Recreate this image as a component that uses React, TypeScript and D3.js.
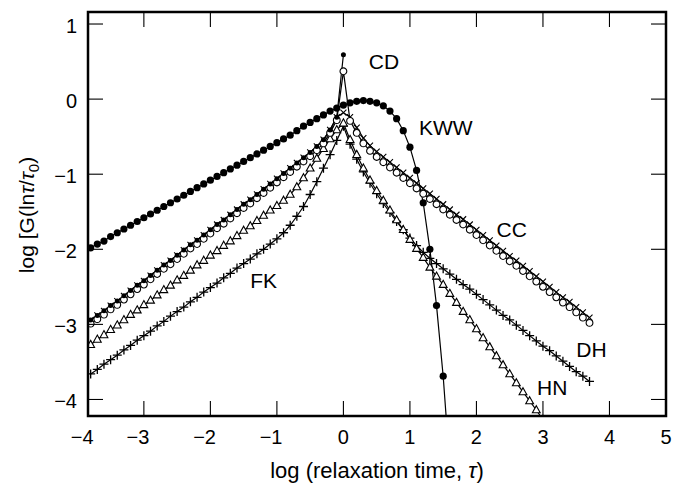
import React from 'react';
import * as d3 from 'd3';

// shared grid of log(tau) values the curves were sampled on
const logTau = [
  -3.8, -3.7, -3.6, -3.5, -3.4, -3.3, -3.2, -3.1, -3.0, -2.9,
  -2.8, -2.7, -2.6, -2.5, -2.4, -2.3, -2.2, -2.1, -2.0, -1.9,
  -1.8, -1.7, -1.6, -1.5, -1.4, -1.3, -1.2, -1.1, -1.0, -0.9,
  -0.8, -0.7, -0.6, -0.5, -0.4, -0.3, -0.2, -0.1, 0,
  0.1, 0.2, 0.3, 0.4, 0.5, 0.6, 0.7, 0.8, 0.9, 1.0,
  1.1, 1.2, 1.3, 1.4, 1.5, 1.6, 1.7, 1.8, 1.9, 2.0,
  2.1, 2.2, 2.3, 2.4, 2.5, 2.6, 2.7, 2.8, 2.9, 3.0,
  3.1, 3.2, 3.3, 3.4, 3.5, 3.6, 3.7,
];

// log G values, index-aligned with logTau
const kwwValues = [
  -1.98, -1.93, -1.89, -1.83, -1.78, -1.73, -1.68, -1.63, -1.58, -1.53,
  -1.48, -1.43, -1.38, -1.33, -1.28, -1.23, -1.18, -1.13, -1.08, -1.03,
  -0.98, -0.93, -0.88, -0.83, -0.78, -0.73, -0.68, -0.63, -0.58, -0.53,
  -0.48, -0.42, -0.36, -0.31, -0.26, -0.21, -0.16, -0.12, -0.08, -0.05,
  -0.03, -0.02, -0.03, -0.05, -0.09, -0.16, -0.26, -0.42, -0.64, -0.95,
  -1.38, -2.0, -2.75, -3.69, -4.9,
];

const cdValues = [
  -2.94, -2.88, -2.82, -2.75, -2.69, -2.62, -2.55, -2.48, -2.42, -2.35,
  -2.28, -2.21, -2.15, -2.08, -2.01, -1.94, -1.88, -1.81, -1.74, -1.67,
  -1.61, -1.54, -1.47, -1.40, -1.34, -1.27, -1.20, -1.13, -1.06, -0.99,
  -0.92, -0.85, -0.78, -0.71, -0.63, -0.54, -0.41, -0.24, 0.59,
];

const ccValues = [
  -2.99, -2.93, -2.87, -2.80, -2.74, -2.67, -2.60, -2.53, -2.47, -2.40,
  -2.33, -2.26, -2.20, -2.13, -2.06, -1.99, -1.93, -1.86, -1.79, -1.72,
  -1.66, -1.59, -1.52, -1.45, -1.39, -1.32, -1.25, -1.18, -1.11, -1.04,
  -0.97, -0.90, -0.83, -0.76, -0.68, -0.59, -0.45, -0.28, 0.37,
  -0.29, -0.45, -0.59, -0.69, -0.77, -0.84, -0.91, -0.98, -1.05, -1.12,
  -1.19, -1.26, -1.33, -1.40, -1.47, -1.54, -1.61, -1.67, -1.74, -1.81,
  -1.88, -1.95, -2.02, -2.09, -2.16, -2.22, -2.29, -2.36, -2.43, -2.50,
  -2.57, -2.64, -2.71, -2.77, -2.84, -2.91, -2.98,
];

const dhValues = [
  -2.94, -2.88, -2.82, -2.75, -2.69, -2.62, -2.55, -2.48, -2.42, -2.35,
  -2.28, -2.21, -2.15, -2.08, -2.01, -1.94, -1.88, -1.81, -1.74, -1.67,
  -1.61, -1.54, -1.47, -1.40, -1.34, -1.27, -1.20, -1.13, -1.06, -0.99,
  -0.92, -0.85, -0.78, -0.71, -0.63, -0.54, -0.41, -0.24, -0.18,
  -0.24, -0.38, -0.52, -0.62, -0.70, -0.77, -0.84, -0.91, -0.98, -1.05,
  -1.12, -1.19, -1.26, -1.33, -1.40, -1.47, -1.54, -1.60, -1.67, -1.74,
  -1.81, -1.88, -1.95, -2.02, -2.09, -2.15, -2.22, -2.29, -2.36, -2.43,
  -2.50, -2.57, -2.64, -2.70, -2.77, -2.84, -2.91,
];

const hnValues = [
  -3.27, -3.20, -3.14, -3.07, -3.01, -2.94, -2.87, -2.81, -2.74, -2.68,
  -2.61, -2.54, -2.48, -2.41, -2.35, -2.28, -2.21, -2.15, -2.08, -2.02,
  -1.95, -1.89, -1.82, -1.75, -1.69, -1.62, -1.55, -1.48, -1.42, -1.35,
  -1.27, -1.17, -1.05, -0.92, -0.79, -0.66, -0.53, -0.41, -0.32,
  -0.54, -0.74, -0.92, -1.08, -1.22, -1.35, -1.48, -1.61, -1.74, -1.87,
  -1.99, -2.11, -2.24, -2.36, -2.47, -2.59, -2.71, -2.83, -2.94, -3.06,
  -3.18, -3.30, -3.42, -3.54, -3.66, -3.78, -3.90, -4.02, -4.14, -4.27,
];

const fkValues = [
  -3.66, -3.60, -3.53, -3.47, -3.41, -3.34, -3.28, -3.21, -3.15, -3.09,
  -3.02, -2.96, -2.89, -2.83, -2.77, -2.70, -2.64, -2.57, -2.51, -2.45,
  -2.38, -2.32, -2.25, -2.19, -2.13, -2.06, -2.00, -1.93, -1.86, -1.78,
  -1.68, -1.56, -1.43, -1.27, -1.10, -0.92, -0.74, -0.55, -0.36,
  -0.60, -0.80, -0.97, -1.12, -1.26, -1.39, -1.51, -1.63, -1.74, -1.85,
  -1.95, -2.04, -2.12, -2.19, -2.26, -2.33, -2.40, -2.47, -2.53, -2.60,
  -2.67, -2.74, -2.81, -2.88, -2.94, -3.01, -3.08, -3.15, -3.22, -3.29,
  -3.35, -3.42, -3.49, -3.56, -3.63, -3.69, -3.76,
];

const xTickValues = [-4, -3, -2, -1, 0, 1, 2, 3, 4, 5];
const yTickValues = [1, 0, -1, -2, -3, -4];

// curve names and where they sit, in data units
const curveNames = ['CD', 'KWW', 'CC', 'FK', 'DH', 'HN'];
const curveNameX = [0.61, 1.54, 2.53, -1.2, 3.73, 3.14];
const curveNameY = [0.5, -0.38, -1.74, -2.41, -3.34, -3.84];

const frame = { left: 88, right: 666, top: 12, bottom: 416 };
const FONT = "'Liberation Sans', Arial, Helvetica, sans-serif";

const x = d3.scaleLinear().domain([-3.84, 4.85]).range([frame.left, frame.right]);
const y = d3.scaleLinear().domain([-4.22, 1.16]).range([frame.bottom, frame.top]);
const xc = (v: number) => x(Math.max(-3.84, Math.min(4.85, v)));
const yc = (v: number) => y(Math.max(-4.22, Math.min(1.16, v)));

const markers: Record<string, { d: string; fill: string; stroke: string; sw: number }> = {
  bigDot: { d: d3.symbol(d3.symbolCircle, Math.PI * 3.6 * 3.6)()!, fill: '#000', stroke: 'none', sw: 0 },
  smallDot: { d: d3.symbol(d3.symbolCircle, Math.PI * 2.5 * 2.5)()!, fill: '#000', stroke: 'none', sw: 0 },
  ring: { d: d3.symbol(d3.symbolCircle, Math.PI * 3.4 * 3.4)()!, fill: '#fff', stroke: '#000', sw: 1.1 },
  cross: { d: 'M-3,-3L3,3M-3,3L3,-3', fill: 'none', stroke: '#000', sw: 1.1 },
  plus: { d: 'M-4.5,0L4.5,0M0,-4.5L0,4.5', fill: 'none', stroke: '#000', sw: 1.3 },
  triangle: { d: 'M0,-4.3L3.9,2.8L-3.9,2.8Z', fill: '#fff', stroke: '#000', sw: 1.1 },
};

// draw order: bottom first
const series = [
  { name: 'FK', values: fkValues, marker: 'plus' },
  { name: 'HN', values: hnValues, marker: 'triangle' },
  { name: 'DH', values: dhValues, marker: 'cross' },
  { name: 'CC', values: ccValues, marker: 'ring' },
  { name: 'CD', values: cdValues, marker: 'smallDot' },
  { name: 'KWW', values: kwwValues, marker: 'bigDot' },
];

const line = d3.line<number>()
  .x((_, i) => x(logTau[i]))
  .y(d => y(d));

const minus = (v: number) => (v < 0 ? '\u2212' + Math.abs(v) : String(v));

export default function App() {
  const tickLen = 15;
  const tickFs = 20;
  const innerX = xTickValues.filter(v => v > -3.84 && v < 4.85);
  const innerY = yTickValues.filter(v => v > -4.22 && v < 1.16);

  return (
    <svg
      width={681}
      height={486}
      style={{ position: 'absolute', left: 0, top: 0, background: '#fff' }}
      fontFamily={FONT}
    >
      <defs>
        <clipPath id="plotArea">
          <rect x={frame.left} y={frame.top} width={frame.right - frame.left} height={frame.bottom - frame.top} />
        </clipPath>
      </defs>

      <g clipPath="url(#plotArea)">
        {series.map(s => (
          <path key={s.name + '-line'} d={line(s.values) || ''} fill="none" stroke="#000" strokeWidth={1.2} />
        ))}
        {series.map(s => {
          const m = markers[s.marker];
          return (
            <g key={s.name + '-pts'}>
              {s.values.map((v, i) => (
                <path
                  key={i}
                  transform={`translate(${x(logTau[i])},${y(v)})`}
                  d={m.d}
                  fill={m.fill}
                  stroke={m.stroke}
                  strokeWidth={m.sw}
                />
              ))}
            </g>
          );
        })}
      </g>

      {/* ticks, pointing inwards on all four sides */}
      {innerX.map(v => (
        <g key={'xt' + v} stroke="#000" strokeWidth={1.1}>
          <line x1={x(v)} x2={x(v)} y1={frame.bottom} y2={frame.bottom - tickLen} />
          <line x1={x(v)} x2={x(v)} y1={frame.top} y2={frame.top + tickLen} />
        </g>
      ))}
      {innerY.map(v => (
        <g key={'yt' + v} stroke="#000" strokeWidth={1.1}>
          <line x1={frame.left} x2={frame.left + tickLen} y1={y(v)} y2={y(v)} />
          <line x1={frame.right} x2={frame.right - tickLen} y1={y(v)} y2={y(v)} />
        </g>
      ))}

      <rect
        x={frame.left}
        y={frame.top}
        width={frame.right - frame.left}
        height={frame.bottom - frame.top}
        fill="none"
        stroke="#000"
        strokeWidth={2.5}
      />

      {/* tick labels: digits centred on the tick, minus sign hanging left */}
      {xTickValues.map(v => (
        <text key={'xl' + v} x={xc(v) + 0.278 * tickFs} y={444} fontSize={tickFs} textAnchor="end">
          {minus(v)}
        </text>
      ))}
      {yTickValues.map(v => (
        <text key={'yl' + v} x={77} y={yc(v) + 0.36 * tickFs + 1.5} fontSize={tickFs} textAnchor="end">
          {minus(v)}
        </text>
      ))}

      {curveNames.map((n, i) => (
        <text key={n} x={x(curveNameX[i])} y={y(curveNameY[i])} dy="0.36em" fontSize={21} textAnchor="middle">
          {n}
        </text>
      ))}

      <text x={(frame.left + frame.right) / 2} y={478} fontSize={22} textAnchor="middle">
        log (relaxation time, <tspan fontStyle="italic">τ</tspan>)
      </text>
      <text transform="translate(34,215) rotate(-90)" fontSize={21} textAnchor="middle">
        log [G(ln<tspan fontStyle="italic">τ</tspan>/<tspan fontStyle="italic">τ</tspan>
        <tspan fontSize={15} dy={5}>0</tspan>
        <tspan dy={-5}>)</tspan>
      </text>
    </svg>
  );
}
